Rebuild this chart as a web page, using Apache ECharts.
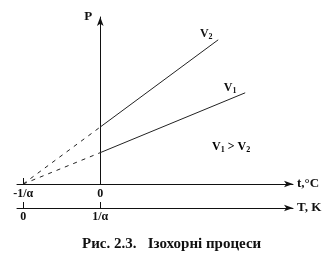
<!DOCTYPE html>
<html><head><meta charset="utf-8">
<script src="https://cdn.jsdelivr.net/npm/echarts@6/dist/echarts.min.js"></script>
<style>html,body{margin:0;padding:0;background:#fff}#c{width:333px;height:276px}</style>
</head><body><div id="c"></div>
<script>
// Data (t in units of 1/α, P in relative units)
const v2T = [-1, 0, 1.53];
const v2P = [0, 1, 2.53];
const v1T = [-1, 0, 1.88];
const v1P = [0, 0.55, 1.60];
const tTickValues = [-1, 0];
const tTickLabels = ['-1/α', '0'];
const kTickValues = [0, 1];
const kTickLabels = ['0', '1/α'];
const titleText = 'Рис. 2.3.   Ізохорні процеси';

const FONT = 'Liberation Serif';
const txt = {color:'#111', fontFamily:FONT, fontWeight:'bold', fontSize:11};

function seg(ts, ps, a, b){ const r=[]; for(let i=a;i<=b;i++) r.push([ts[i], ps[i]]); return r; }
function lab(map, i, arr){ return map[arr.indexOf(i)] ?? ''; }

const chart = echarts.init(document.getElementById('c'), null, {renderer:'canvas'});
const lineStyleSolid = {color:'#222', width:1};
const lineStyleDash = {color:'#222', width:1, type:[4,5]};

function endLabel(name, off){
  return {show:true, formatter:name, position:'top', offset:off,
    rich:{v:{...txt,fontSize:12}, s:{...txt,fontSize:8,padding:[6,0,0,0]}}};
}
const v2Solid = seg(v2T, v2P, 1, 2).map((d,i,a)=> i===a.length-1 ? {value:d, symbolSize:0.01, label:endLabel('{v|V}{s|2}',[-12,6])} : d);
const v1Solid = seg(v1T, v1P, 1, 2).map((d,i,a)=> i===a.length-1 ? {value:d, symbolSize:0.01, label:endLabel('{v|V}{s|1}',[-15,7])} : d);

chart.setOption({
  animation:false,
  title:{text:titleText, left:77, top:232, textStyle:{...txt, fontSize:15}},
  grid:{left:17, right:40, top:17, bottom:92},
  xAxis:[
    {type:'value', min:-1.08, max:2.5, position:'bottom',
     axisLine:{onZero:false, lineStyle:{color:'#111', width:1}, symbol:['none','arrow'], symbolSize:[5,9]},
     axisTick:{show:true, inside:true, length:6, customValues:[-1], lineStyle:{color:'#111'}},
     axisLabel:{...txt, fontSize:12, margin:4, customValues:tTickValues, formatter:v=>lab(tTickLabels,v,tTickValues)},
     splitLine:{show:false},
     name:'t,°C', nameLocation:'end', nameGap:4, nameTextStyle:{...txt, fontSize:13, padding:[7,0,0,0]}},
    {type:'value', min:-0.08, max:3.5, position:'bottom', offset:24,
     axisLine:{onZero:false, lineStyle:{color:'#111', width:1}, symbol:['none','arrow'], symbolSize:[5,9]},
     axisTick:{show:true, inside:true, length:6, customValues:kTickValues, lineStyle:{color:'#111'}},
     axisLabel:{...txt, fontSize:12, margin:3, customValues:kTickValues, formatter:v=>lab(kTickLabels,v,kTickValues)},
     splitLine:{show:false},
     name:'T, K', nameLocation:'end', nameGap:4, nameTextStyle:{...txt, fontSize:13, padding:[7,0,0,0]}}
  ],
  yAxis:{type:'value', min:0, max:2.93,
    axisLine:{show:true, onZero:true, onZeroAxisIndex:0, lineStyle:{color:'#111', width:1}, symbol:['none','arrow'], symbolSize:[5,9]},
    axisTick:{show:false}, axisLabel:{show:false}, splitLine:{show:false},
    name:'P', nameLocation:'end', nameGap:-6, nameTextStyle:{...txt, fontSize:13, padding:[0,24,0,0]}},
  graphic:[{type:'text', left:212, top:141, style:{
    text:'{v|V}{s|1}{v| > V}{s|2}',
    rich:{v:{...txt,fontSize:12}, s:{...txt,fontSize:8,padding:[6,0,0,0]}}}}],
  series:[
    {type:'line', xAxisIndex:0, data:seg(v2T,v2P,0,1), symbol:'none', lineStyle:lineStyleDash, silent:true},
    {type:'line', xAxisIndex:0, data:seg(v1T,v1P,0,1), symbol:'none', lineStyle:lineStyleDash, silent:true},
    {type:'line', xAxisIndex:0, data:v2Solid, symbol:'circle', symbolSize:0.01, showSymbol:true, lineStyle:lineStyleSolid, itemStyle:{color:'#222'}, silent:true},
    {type:'line', xAxisIndex:0, data:v1Solid, symbol:'circle', symbolSize:0.01, showSymbol:true, lineStyle:lineStyleSolid, itemStyle:{color:'#222'}, silent:true}
  ]
});
</script></body></html>
